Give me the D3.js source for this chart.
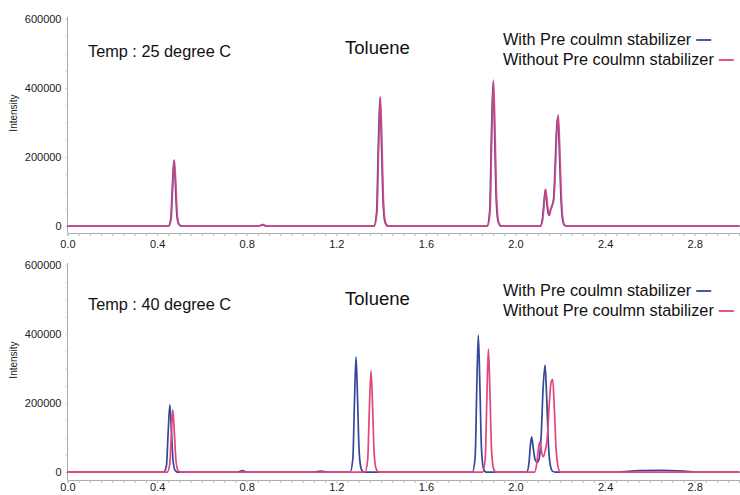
<!DOCTYPE html>
<html><head><meta charset="utf-8">
<script src="https://cdn.jsdelivr.net/npm/d3@7"></script>
<style>body{margin:0;background:#fff}svg{display:block}text{font-family:"Liberation Sans",Arial,sans-serif}</style>
</head><body><svg id="c" width="740" height="495"></svg>
<script>
const xTicks = [0.0, 0.4, 0.8, 1.2, 1.6, 2.0, 2.4, 2.8];
const yTicks = [0, 200000, 400000, 600000];
const seriesNames = ["With Pre coulmn stabilizer", "Without Pre coulmn stabilizer"];
const panelTitles = ["Temp : 25 degree C", "Temp : 40 degree C"];
const compound = "Toluene";

const topWith = [[0,0],[0.45,0],[0.461,20000],[0.468,110000],[0.475,190000],[0.482,118000],[0.488,34000],[0.496,6000],[0.508,0],
 [0.85,0],[0.866,3000],[0.872,4000],[0.878,2000],[0.89,0],
 [1.368,0],[1.380,40000],[1.387,215000],[1.395,372000],[1.402,236000],[1.409,68000],[1.418,10000],[1.430,0],
 [1.873,0],[1.885,44000],[1.892,245000],[1.900,418000],[1.907,265000],[1.914,78000],[1.923,12000],[1.935,0],
 [2.110,0],[2.120,20000],[2.127,68000],[2.133,105000],[2.139,73000],[2.145,39000],[2.150,31000],[2.156,47000],[2.164,61000],[2.170,78000],[2.176,158000],[2.183,276000],[2.189,318000],[2.195,236000],[2.202,98000],[2.209,24000],[2.218,3000],[2.230,0],[3.0,0]];
const topWithout = [[0,0],[0.452,0],[0.463,20000],[0.470,112000],[0.477,192000],[0.484,120000],[0.490,35000],[0.498,6000],[0.510,0],
 [0.85,0],[0.868,3000],[0.874,4000],[0.880,2000],[0.892,0],
 [1.370,0],[1.382,40000],[1.389,220000],[1.397,376000],[1.404,240000],[1.411,70000],[1.420,10000],[1.432,0],
 [1.875,0],[1.887,45000],[1.894,250000],[1.902,424000],[1.909,270000],[1.916,80000],[1.925,12000],[1.937,0],
 [2.112,0],[2.122,20000],[2.129,70000],[2.135,107000],[2.141,75000],[2.147,40000],[2.152,32000],[2.158,48000],[2.166,62000],[2.172,80000],[2.178,160000],[2.185,280000],[2.191,322000],[2.197,240000],[2.204,100000],[2.211,25000],[2.220,3000],[2.232,0],[3.0,0]];

const botWith = [[0,0],[0.430,0],[0.442,20000],[0.449,110000],[0.457,195000],[0.464,120000],[0.471,35000],[0.480,5000],[0.490,0],
 [0.76,0],[0.78,4000],[0.80,0],[1.10,0],[1.13,3000],[1.16,0],
 [1.262,0],[1.274,40000],[1.281,200000],[1.288,334000],[1.295,210000],[1.302,60000],[1.311,10000],[1.322,0],
 [1.808,0],[1.820,45000],[1.827,240000],[1.834,397000],[1.841,250000],[1.848,70000],[1.857,10000],[1.868,0],
 [2.050,0],[2.060,25000],[2.066,75000],[2.072,102000],[2.079,70000],[2.088,35000],[2.097,28000],[2.106,40000],[2.115,110000],[2.123,240000],[2.132,310000],[2.139,220000],[2.147,80000],[2.156,18000],[2.166,2000],[2.176,0],
 [2.45,0],[2.55,4000],[2.65,5000],[2.75,3000],[2.82,0],[3.0,0]];
const botWithout = [[0,0],[0.445,0],[0.456,20000],[0.463,100000],[0.470,180000],[0.477,115000],[0.484,35000],[0.493,5000],[0.503,0],
 [1.328,0],[1.340,35000],[1.347,170000],[1.355,294000],[1.362,190000],[1.369,55000],[1.378,9000],[1.390,0],
 [1.853,0],[1.865,40000],[1.872,210000],[1.879,356000],[1.886,230000],[1.893,65000],[1.902,10000],[1.913,0],
 [2.085,0],[2.095,25000],[2.102,65000],[2.109,88000],[2.116,60000],[2.124,44000],[2.132,60000],[2.142,100000],[2.151,200000],[2.159,260000],[2.166,269000],[2.173,190000],[2.181,70000],[2.190,15000],[2.200,0],[3.0,0]];

const colors = ["#34479a", "#e2457f"];
const svg = d3.select("#c");

const panels = [
  {top:19, bottom:233, ymin:-20000, pad:7, data:[topWith, topWithout], title:panelTitles[0], titleY:57, tolY:54, legY:45, intY:113},
  {top:265, bottom:480, ymin:-23000, pad:3, data:[botWith, botWithout], title:panelTitles[1], titleY:310, tolY:305, legY:296, intY:360}
];

const x = d3.scaleLinear().domain([0, 3.0]).range([67.5, 739.5]);

panels.forEach((p, pi) => {
  const y = d3.scaleLinear().domain([p.ymin, 600000]).range([p.bottom, p.top]);
  const g = svg.append("g");

  const xa = d3.axisBottom(x).tickValues(d3.range(0, 3.0001, 0.05)).tickSize(3).tickFormat("");
  const gxm = g.append("g").attr("transform", `translate(0,${p.bottom})`).call(xa);
  gxm.select(".domain").attr("stroke", "#aaa");
  gxm.selectAll("line").attr("stroke", "#bbb");
  const gx = g.append("g").attr("transform", `translate(0,${p.bottom})`)
    .call(d3.axisBottom(x).tickValues(xTicks).tickFormat(d3.format(".1f")).tickSize(0).tickPadding(p.pad));
  gx.select(".domain").remove();
  gx.selectAll("text").attr("font-size", 11).attr("fill", "#222").style("font-family", "Liberation Sans, Arial");

  const ya = d3.axisLeft(y).tickValues(d3.range(0, 600001, 50000)).tickSize(2).tickFormat("");
  const gym = g.append("g").attr("transform", `translate(${x(0)},0)`).call(ya);
  gym.select(".domain").attr("stroke", "#aaa").attr("d", `M0,${p.top-2}V${p.bottom}`);
  gym.selectAll("line").attr("stroke", "#ccc");
  const gy = g.append("g").attr("transform", `translate(${x(0)},0)`)
    .call(d3.axisLeft(y).tickValues(yTicks).tickFormat(d3.format("d")).tickSize(0).tickPadding(6));
  gy.select(".domain").remove();
  gy.selectAll("text").attr("font-size", 11).attr("fill", "#222").style("font-family", "Liberation Sans, Arial");

  g.append("text").attr("transform", `translate(17,${p.intY}) rotate(-90)`)
    .attr("text-anchor", "middle").attr("font-size", 10).attr("fill", "#222").text("Intensity");

  const line = d3.line().x(d => x(d[0])).y(d => y(d[1])).curve(d3.curveMonotoneX);
  g.append("path").datum(p.data[0]).attr("d", line).attr("fill", "none")
    .attr("stroke", colors[0]).attr("stroke-width", 1.7);
  g.append("path").datum(p.data[1]).attr("d", line).attr("fill", "none")
    .attr("stroke", colors[1]).attr("stroke-width", 1.7).attr("stroke-opacity", pi === 0 ? 0.85 : 1);

  g.append("text").attr("x", 88).attr("y", p.titleY).attr("font-size", 16.3).attr("fill", "#111").text(p.title);
  g.append("text").attr("x", 345).attr("y", p.tolY).attr("font-size", 18.5).attr("fill", "#111").text(compound);

  seriesNames.forEach((n, i) => {
    const t = g.append("text").attr("x", 503).attr("y", p.legY + i * 20).attr("font-size", 16.3).attr("fill", "#111").text(n);
    const w = t.node().getComputedTextLength();
    g.append("line").attr("x1", 503 + w + 5).attr("x2", 503 + w + 20)
      .attr("y1", p.legY + i * 20 - 5).attr("y2", p.legY + i * 20 - 5)
      .attr("stroke", colors[i]).attr("stroke-width", 1.8);
  });
});
</script></body></html>
